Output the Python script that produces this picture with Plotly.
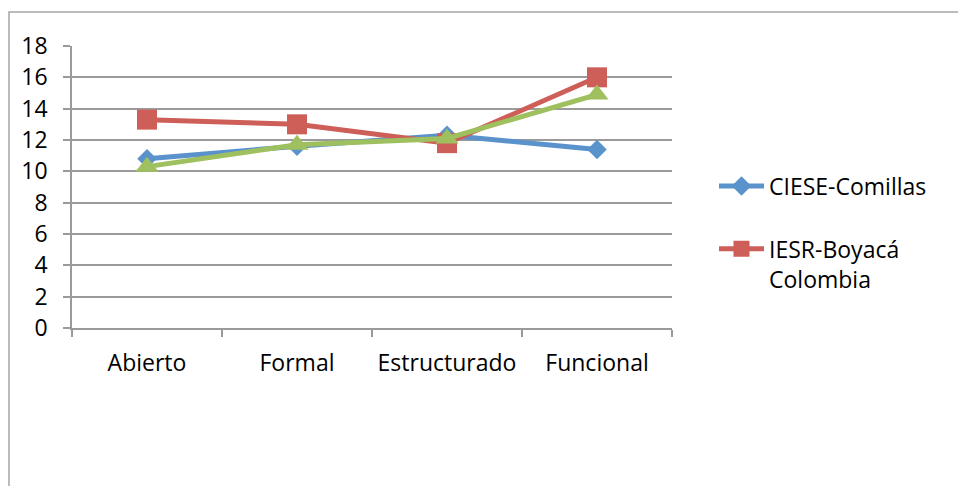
import plotly.graph_objects as go

# Categories and series values
categories = ["Abierto", "Formal", "Estructurado", "Funcional"]
ciese_comillas = [10.8, 11.6, 12.3, 11.4]
iesr_boyaca = [13.3, 13.0, 11.8, 16.0]
serie_3 = [10.3, 11.7, 12.1, 14.9]

BLUE = "#5A92CC"
RED = "#CD5F58"
GREEN = "#9FC05E"
GRID = "#9A9A9A"
FONT = "Open Sans"

fig = go.Figure()

fig.add_trace(go.Scatter(
    x=categories, y=ciese_comillas, name="CIESE-Comillas",
    mode="lines+markers", legendgroup="a",
    line=dict(color=BLUE, width=5),
    marker=dict(symbol="diamond", size=15, color=BLUE),
))
fig.add_trace(go.Scatter(
    x=categories, y=iesr_boyaca, name="IESR-Boyacá<br>Colombia",
    mode="lines+markers", legendgroup="b",
    line=dict(color=RED, width=5),
    marker=dict(symbol="square", size=20, color=RED),
))
fig.add_trace(go.Scatter(
    x=categories, y=serie_3, name="Serie 3", showlegend=False,
    mode="lines+markers", legendgroup="c",
    line=dict(color=GREEN, width=5),
    marker=dict(symbol="triangle-up", size=20, color=GREEN),
))

# Chart-area frame
fig.add_shape(type="rect", xref="paper", yref="paper",
              x0=-0.105, x1=1.6, y0=-1.0, y1=1.1206,
              line=dict(color="#A6A6A6", width=1.5), layer="below")

fig.update_layout(
    width=958, height=486,
    margin=dict(l=72, r=286, t=46, b=158),
    paper_bgcolor="white", plot_bgcolor="white",
    font=dict(family=FONT, size=23, color="black"),
    legend=dict(x=1.07, y=0.58, xanchor="left", yanchor="top",
                traceorder="grouped", tracegroupgap=30, valign="top",
                itemwidth=45,
                font=dict(family=FONT, size=23, color="black"),
                bgcolor="rgba(0,0,0,0)"),
    xaxis=dict(
        type="category", range=[-0.5, 3.5],
        showline=True, linecolor=GRID, linewidth=1.5,
        ticks="outside", tickson="boundaries", ticklen=7,
        tickcolor=GRID, tickwidth=1.5,
        showgrid=False, tickfont=dict(size=23),
        ticklabelstandoff=14,
    ),
    yaxis=dict(
        range=[0, 18], dtick=2, tick0=0,
        showline=True, linecolor=GRID, linewidth=1.5,
        ticks="outside", ticklen=7, tickcolor=GRID, tickwidth=1.5,
        showgrid=True, gridcolor=GRID, gridwidth=1.5,
        zeroline=False, tickfont=dict(size=23),
        ticklabelstandoff=11,
    ),
    showlegend=True,
)

fig.write_html("out.html")
